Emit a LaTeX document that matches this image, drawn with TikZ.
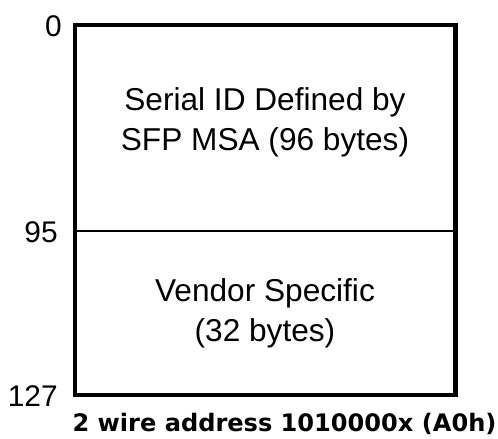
\documentclass[tikz,border=0pt]{standalone}
\usepackage{fontspec}
\setmainfont{Liberation Sans}
\newfontfamily\wirefont{DejaVu Sans}
\usetikzlibrary{positioning}

\begin{document}
\begin{tikzpicture}[x=0.02cm, y=-0.02cm,
    field/.style = {align=center, inner sep=0pt, anchor=north, font=\fontsize{18}{23}\selectfont},
    offset/.style = {anchor=east, inner sep=0pt, font=\fontsize{17}{20}\selectfont}]
    \useasboundingbox (0,0) rectangle (498,439);
    \coordinate (topleft) at (75,25);
    \coordinate (botright) at (455.5,395);
    \coordinate (midleft) at (75,231);
    \coordinate (midright) at (455.5,231);
    \draw[line width=2.3pt] (topleft) rectangle (botright);
    \draw[line width=1.5pt] (midleft) -- (midright);
    \node (serialid) [field] at (265,87) {Serial ID Defined by\\SFP MSA (96 bytes)};
    \node (vendor) [field] at (265,278) {Vendor Specific\\(32 bytes)};
    \node (o0) [offset] at (62,26) {0};
    \node (o95) [offset] at (58,232) {95};
    \node (o127) [offset] at (58,396) {127};
    \node (wireaddr) [anchor=base, inner sep=0pt, font=\fontsize{13.7}{16}\selectfont\wirefont\bfseries] at (284.5,432) {2 wire address 1010000x (A0h)};
\end{tikzpicture}
\end{document}
